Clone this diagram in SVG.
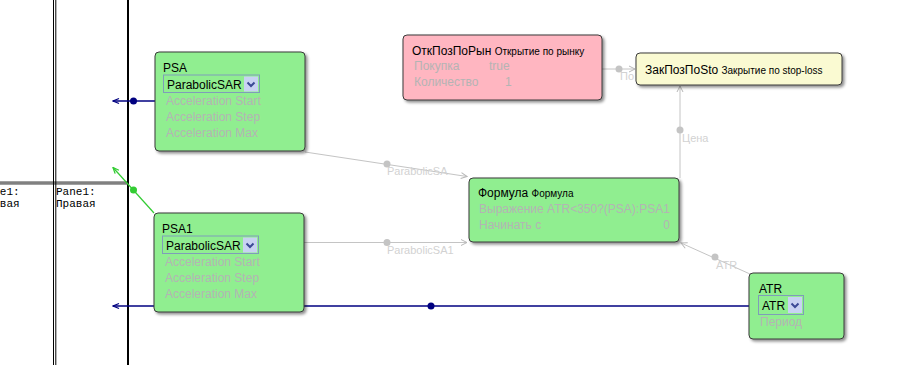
<svg xmlns="http://www.w3.org/2000/svg" width="924" height="365" viewBox="0 0 924 365">
<style>
  .node{stroke:#3a3a3a;stroke-width:1}
  .green{fill:#90ee90}
  .t{font-family:"Liberation Sans",Arial,sans-serif;font-size:12px;fill:#000}
  .s{font-size:10px}
  .g{font-family:"Liberation Sans",Arial,sans-serif;font-size:12px;fill:#b4b4b4}
  .combo{fill:none;stroke:#7f9db9;stroke-width:1}
  .btn{fill:#c8d2f2}
  .chev{fill:none;stroke:#3b4a96;stroke-width:2}
  .pane{font-family:"Liberation Mono","Courier New",monospace;font-size:11px;fill:#000}
  .gl{stroke:#c4c4c4;stroke-width:1;fill:none}
  .gd{fill:#c4c4c4}
  .lbl{font-family:"Liberation Sans",Arial,sans-serif;font-size:11px;fill:#d2d2d2}
  .blue{stroke:#000080;stroke-width:1.3;fill:none}
  .bd{fill:#000080}
  .grn{stroke:#33cc33;stroke-width:1.2;fill:none}
</style>
<defs>
  <filter id="sh" x="-10%" y="-10%" width="130%" height="140%">
    <feDropShadow dx="2" dy="2" stdDeviation="1.5" flood-color="#000" flood-opacity="0.45"/>
  </filter>
  <marker id="ag" markerWidth="8" markerHeight="8" refX="7" refY="4" orient="auto" markerUnits="userSpaceOnUse">
    <path d="M1,1 L7,4 L1,7" fill="none" stroke="#b8b8b8" stroke-width="1"/>
  </marker>
  <marker id="ab" markerWidth="8" markerHeight="8" refX="7" refY="4" orient="auto" markerUnits="userSpaceOnUse">
    <path d="M1,1.5 L7,4 L1,6.5" fill="none" stroke="#000080" stroke-width="1.3"/>
  </marker>
  <marker id="agr" markerWidth="8" markerHeight="8" refX="7" refY="4" orient="auto" markerUnits="userSpaceOnUse">
    <path d="M1,1.5 L7,4 L1,6.5" fill="none" stroke="#33cc33" stroke-width="1.3"/>
  </marker>
</defs>
<rect width="924" height="365" fill="#fff"/>

<g id="panes">
  <line x1="0" y1="183" x2="128" y2="183" stroke="#808080" stroke-width="3.5"/>
  <line x1="53.5" y1="0" x2="53.5" y2="365" stroke="#000" stroke-width="1"/>
  <line x1="55.8" y1="0" x2="55.8" y2="365" stroke="#000" stroke-width="1"/>
  <line x1="128" y1="0" x2="128" y2="365" stroke="#000" stroke-width="2"/>
  <text class="pane" x="-20" y="195">Pane1:</text>
  <text class="pane" x="-20" y="207">Правая</text>
  <text class="pane" x="56" y="195">Pane1:</text>
  <text class="pane" x="56" y="207">Правая</text>
</g>

<g id="connectors">
  <line class="gl" x1="305" y1="152" x2="467" y2="176.5" marker-end="url(#ag)"/>
  <circle class="gd" cx="387" cy="164" r="3.5"/>
  <text class="lbl" x="387" y="175">ParabolicSA</text>
  <line class="gl" x1="304" y1="242.5" x2="467" y2="242.5" marker-end="url(#ag)"/>
  <circle class="gd" cx="387" cy="242.5" r="3.5"/>
  <text class="lbl" x="387" y="254">ParabolicSA1</text>
  <line class="gl" x1="750" y1="274" x2="681" y2="243" marker-end="url(#ag)"/>
  <circle class="gd" cx="715" cy="257" r="3.5"/>
  <text class="lbl" x="716" y="269">ATR</text>
  <line class="gl" x1="680" y1="178" x2="680" y2="86" marker-end="url(#ag)"/>
  <circle class="gd" cx="680" cy="130" r="3.5"/>
  <text class="lbl" x="682" y="142">Цена</text>
  <line class="gl" x1="602" y1="69" x2="635" y2="69" marker-end="url(#ag)"/>
  <circle class="gd" cx="619" cy="69" r="3.5"/>
  <text class="lbl" x="620" y="80">По</text>
  <line class="blue" x1="155" y1="101" x2="113" y2="101" marker-end="url(#ab)"/>
  <circle class="bd" cx="133.5" cy="101" r="3.5"/>
  <line class="blue" x1="749" y1="306" x2="113" y2="306" marker-end="url(#ab)"/>
  <circle class="bd" cx="431" cy="306" r="3.5"/>
  <line class="grn" x1="154" y1="213" x2="113" y2="167.5" marker-end="url(#agr)"/>
  <circle fill="#33cc33" cx="133.5" cy="190" r="3.5"/>
</g>

<g id="PSA">
  <rect class="node green" x="155" y="52" width="150" height="99" rx="4" filter="url(#sh)"/>
  <text class="t" x="163" y="72">PSA</text>
  <rect class="combo" x="163.5" y="75" width="96" height="17.5"/>
  <text class="t" x="167" y="88.5">ParabolicSAR</text>
  <rect class="btn" x="244" y="76.5" width="14" height="15"/>
  <path class="chev" d="M247.5,82.5 l3.5,3.5 l3.5,-3.5"/>
  <text class="g" x="166" y="105">Acceleration Start</text>
  <text class="g" x="166" y="121">Acceleration Step</text>
  <text class="g" x="166" y="137">Acceleration Max</text>
</g>

<g id="PSA1">
  <rect class="node green" x="154" y="213" width="150" height="99" rx="4" filter="url(#sh)"/>
  <text class="t" x="162" y="233">PSA1</text>
  <rect class="combo" x="162.5" y="236" width="96" height="17.5"/>
  <text class="t" x="166" y="249.5">ParabolicSAR</text>
  <rect class="btn" x="243" y="237.5" width="14" height="15"/>
  <path class="chev" d="M246.5,243.5 l3.5,3.5 l3.5,-3.5"/>
  <text class="g" x="165" y="266">Acceleration Start</text>
  <text class="g" x="165" y="282">Acceleration Step</text>
  <text class="g" x="165" y="298">Acceleration Max</text>
</g>

<g id="OtkPozPoRyn">
  <rect class="node" fill="#ffb6c1" x="403" y="35" width="199" height="65" rx="4" filter="url(#sh)"/>
  <text class="t" x="412" y="55">ОткПозПоРын <tspan class="s">Открытие по рынку</tspan></text>
  <text class="g" x="414" y="70">Покупка</text>
  <text class="g" x="489" y="70">true</text>
  <text class="g" x="414" y="86">Количество</text>
  <text class="g" x="505" y="86">1</text>
</g>

<g id="ZakPozPoSto">
  <rect class="node" fill="#fafad2" x="636" y="53" width="206" height="32" rx="4" filter="url(#sh)"/>
  <text class="t" x="645" y="74">ЗакПозПоSto <tspan class="s">Закрытие по stop-loss</tspan></text>
</g>

<g id="Formula">
  <rect class="node green" x="469" y="178" width="210" height="64" rx="4" filter="url(#sh)"/>
  <text class="t" x="478" y="197">Формула <tspan class="s">Формула</tspan></text>
  <text class="g" x="479" y="213">Выражение ATR&lt;350?(PSA):PSA1</text>
  <text class="g" x="479" y="229">Начинать с</text>
  <text class="g" x="670" y="229" text-anchor="end">0</text>
</g>

<g id="ATR">
  <rect class="node green" x="749" y="273" width="95" height="66" rx="4" filter="url(#sh)"/>
  <text class="t" x="759" y="293">ATR</text>
  <rect class="combo" x="758.5" y="295.5" width="45" height="19"/>
  <text class="t" x="762" y="310">ATR</text>
  <rect class="btn" x="788" y="297" width="14" height="16"/>
  <path class="chev" d="M791.5,303.5 l3.5,3.5 l3.5,-3.5"/>
  <text class="g" x="760" y="326">Период</text>
</g>
</svg>
